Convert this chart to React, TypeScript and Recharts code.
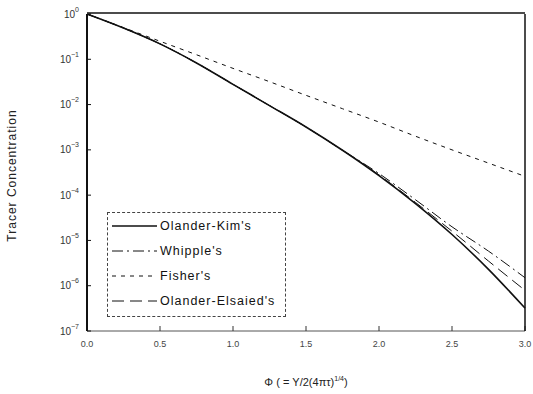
import React from 'react';
import { LineChart, Line, XAxis, YAxis, Legend } from 'recharts';

// dimensionless depth phi and tracer concentration
const phi = [0, 0.25, 0.5, 0.75, 1.0, 1.25, 1.5, 1.75, 2.0, 2.25, 2.5, 2.75, 3.0];
const olanderKim = [1, 4.9e-1, 2.19e-1, 8.3e-2, 2.8e-2, 9.5e-3, 3.2e-3, 9.8e-4, 2.7e-4, 6.5e-5, 1.35e-5, 2.3e-6, 3.2e-7];
const whipple = [1, 4.9e-1, 2.19e-1, 8.3e-2, 2.8e-2, 9.5e-3, 3.2e-3, 9.8e-4, 3.0e-4, 7.9e-5, 2.0e-5, 5.8e-6, 1.5e-6];
const fisher = [1, 5.0e-1, 2.5e-1, 1.26e-1, 6.3e-2, 3.2e-2, 1.6e-2, 8.1e-3, 4.1e-3, 2.0e-3, 1.0e-3, 5.1e-4, 2.6e-4];
const olanderElsaied = [1, 4.9e-1, 2.19e-1, 8.3e-2, 2.8e-2, 9.5e-3, 3.2e-3, 9.8e-4, 2.8e-4, 6.9e-5, 1.6e-5, 3.5e-6, 7.9e-7];

const xTicks = [0, 0.5, 1.0, 1.5, 2.0, 2.5, 3.0];
const xMinorTicks = [0, 0.1, 0.2, 0.3, 0.4, 0.5, 0.6, 0.7, 0.8, 0.9, 1.0, 1.1, 1.2, 1.3, 1.4, 1.5, 1.6, 1.7, 1.8, 1.9, 2.0, 2.1, 2.2, 2.3, 2.4, 2.5, 2.6, 2.7, 2.8, 2.9, 3.0];
const yTicks = [1, 1e-1, 1e-2, 1e-3, 1e-4, 1e-5, 1e-6, 1e-7];

const FONT = '"Liberation Sans", Arial, sans-serif';
const INK = '#111';

const series = [
  { key: 'kim', name: "Olander-Kim's", dash: undefined as string | undefined, width: 1.6 },
  { key: 'whipple', name: "Whipple's", dash: '11 4 2 4', width: 1 },
  { key: 'fisher', name: "Fisher's", dash: '4 5', width: 1 },
  { key: 'elsaied', name: "Olander-Elsaied's", dash: '12 6', width: 1 },
];

const rows = phi.map((p, i) => ({
  phi: p,
  kim: olanderKim[i],
  whipple: whipple[i],
  fisher: fisher[i],
  elsaied: olanderElsaied[i],
}));

const DecadeTick = (props: any) => {
  const { x, y, payload } = props;
  const exp = Math.round(Math.log10(payload.value));
  return (
    <text x={x} y={y} textAnchor="end" fontSize={10} fill="#333" fontFamily={FONT}>
      <tspan dy="0.35em">10</tspan>
      <tspan dy={-6} fontSize={7}>{exp === 0 ? '0' : `\u2212${-exp}`}</tspan>
    </text>
  );
};

const XLabel = (props: any) => {
  const { x, y, width, height } = props.viewBox;
  return (
    <text x={x + width / 2} y={y + height - 8} textAnchor="middle" fontSize={11} fill="#222" fontFamily={FONT}>
      <tspan>{'\u03A6  ( = Y/2(4\u03C0\u03C4)'}</tspan>
      <tspan dy={-5} fontSize={7}>1/4</tspan>
      <tspan dy={5}>)</tspan>
    </text>
  );
};

const YLabel = (props: any) => {
  const { y, height } = props.viewBox;
  const cx = 12;
  const cy = y + height / 2 + 3;
  return (
    <text
      x={cx}
      y={cy}
      transform={`rotate(-90 ${cx} ${cy})`}
      textAnchor="middle"
      dominantBaseline="central"
      fontSize={12}
      letterSpacing={1}
      fill="#222"
      fontFamily={FONT}
    >
      Tracer Concentration
    </text>
  );
};

const LegendBox = () => (
  <div
    style={{
      border: '1px dashed #444',
      background: '#fff',
      boxSizing: 'border-box',
      width: 179,
      height: 105,
      padding: '0 0 0 3px',
      fontFamily: FONT,
    }}
  >
    {series.map((s) => (
      <div key={s.key} style={{ display: 'flex', alignItems: 'center', height: 25, whiteSpace: 'nowrap' }}>
        <svg width={48} height={10}>
          <line x1={1} y1={5} x2={46} y2={5} stroke={INK} strokeWidth={s.width === 1 ? 1 : 1.3} strokeDasharray={s.dash} />
        </svg>
        <span style={{ fontSize: 12.5, letterSpacing: 1, color: '#111', marginLeft: 1 }}>{s.name}</span>
      </div>
    ))}
  </div>
);

export default function App() {
  return (
    <div style={{ position: 'absolute', left: 0, top: 0, background: '#fff' }}>
      <LineChart width={533} height={394} data={rows} margin={{ top: 12, right: 8, bottom: 0, left: 0 }}>
        <XAxis
          dataKey="phi"
          type="number"
          domain={[0, 3]}
          ticks={xTicks}
          interval={0}
          height={63}
          tickSize={-5}
          tickMargin={15}
          tickFormatter={(v: number) => v.toFixed(1)}
          tick={{ fontSize: 9, fill: '#444', fontFamily: FONT }}
          axisLine={{ stroke: '#555' }}
          tickLine={{ stroke: '#333' }}
          label={<XLabel />}
        />
        <XAxis xAxisId="topMinor" orientation="top" type="number" domain={[0, 3]} ticks={xMinorTicks} interval={0} height={1} tick={false} tickSize={-3} axisLine={{ stroke: INK, strokeWidth: 1.5 }} tickLine={{ stroke: INK }} />
        <XAxis xAxisId="topMajor" orientation="top" type="number" domain={[0, 3]} ticks={xTicks} interval={0} height={1} tick={false} tickSize={-6} axisLine={false} tickLine={{ stroke: INK }} />
        <YAxis
          scale="log"
          type="number"
          domain={[1e-7, 1]}
          allowDataOverflow
          ticks={yTicks}
          interval={0}
          width={87}
          tickSize={-4}
          tickMargin={12}
          tick={<DecadeTick />}
          axisLine={{ stroke: INK, strokeWidth: 2 }}
          tickLine={{ stroke: INK }}
          label={<YLabel />}
        />
        <YAxis yAxisId="right" orientation="right" scale="log" type="number" domain={[1e-7, 1]} allowDataOverflow ticks={yTicks} interval={0} mirror tick={false} tickSize={4} axisLine={{ stroke: INK, strokeWidth: 1.5 }} tickLine={{ stroke: INK }} />
        <Legend
          layout="vertical"
          verticalAlign="middle"
          align="center"
          wrapperStyle={{ left: 107, top: 212, width: 179, height: 105 }}
          content={<LegendBox />}
        />
        {series.map((s) => (
          <Line
            key={s.key}
            dataKey={s.key}
            name={s.name}
            type="monotone"
            stroke={INK}
            strokeWidth={s.width}
            strokeDasharray={s.dash}
            dot={false}
            isAnimationActive={false}
          />
        ))}
      </LineChart>
    </div>
  );
}
